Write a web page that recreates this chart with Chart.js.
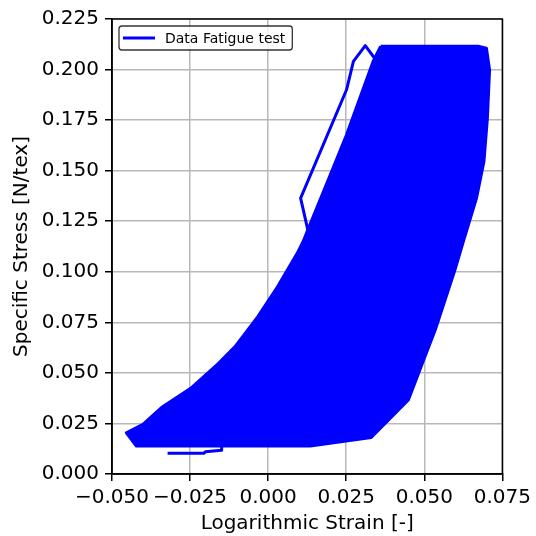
<!DOCTYPE html>
<html>
<head>
<meta charset="utf-8">
<script src="https://cdn.jsdelivr.net/npm/chart.js@4.4.0/dist/chart.umd.min.js"></script>
<style>
  html, body { margin: 0; padding: 0; background: #fff; }
  canvas { display: block; }
</style>
</head>
<body>
<canvas id="fatigueChart" width="536" height="536"></canvas>
<script>
// outer envelope of all the hysteresis loops
const envelopeStrain = [0.0360, 0.0672, 0.0699, 0.0709, 0.0702, 0.0691, 0.0667, 0.0625, 0.0598, 0.0535,
  0.0498, 0.0449, 0.0330, 0.0135, -0.0422, -0.0454, -0.0401, -0.0338, -0.0248, -0.0159,
  -0.0106, -0.0033, 0.0030, 0.0093, 0.0112, 0.0127, 0.0199, 0.0251, 0.0336, 0.0360];
const envelopeStress = [0.2115, 0.2115, 0.2105, 0.1998, 0.1759, 0.1545, 0.1363, 0.1150, 0.1009, 0.0712,
  0.0564, 0.0366, 0.0181, 0.0138, 0.0138, 0.0204, 0.0246, 0.0333, 0.0424, 0.0547,
  0.0630, 0.0778, 0.0926, 0.1091, 0.1150, 0.1207, 0.1479, 0.1677, 0.2040, 0.2115];

// first loading cycle, sticks out on the left
const firstCycleStrain = [0.0127, 0.0104, 0.0251, 0.0273, 0.0311, 0.0341];
const firstCycleStress = [0.1207, 0.1364, 0.1900, 0.2040, 0.2118, 0.2056];

// short unloading tail under the envelope
const tailStrain = [-0.0149, -0.0149, -0.0201, -0.0206, -0.0322];
const tailStress = [0.0138, 0.0118, 0.0110, 0.0102, 0.0102];

const xTickValues = [-0.05, -0.025, 0, 0.025, 0.05, 0.075];
const yTickValues = [0, 0.025, 0.05, 0.075, 0.1, 0.125, 0.15, 0.175, 0.2, 0.225];

const seriesLabel = "Data Fatigue test";
const BLUE = "#0000ff";

Chart.defaults.font.family = "'DejaVu Sans', sans-serif";
Chart.defaults.color = "#000";

function toPoints(xs, ys) {
  return xs.map((x, i) => ({ x: x, y: ys[i] }));
}

function fmtTick(v) {
  if (Math.abs(v) < 1e-9) v = 0;
  return (v < 0 ? "\u2212" : "") + Math.abs(v).toFixed(3);
}

// box on all four sides + legend inside the axes, like matplotlib
const framePlugin = {
  id: "frame",
  afterDatasetsDraw(chart) {
    const { ctx, chartArea: a } = chart;
    ctx.save();
    ctx.strokeStyle = "#000";
    ctx.lineWidth = 1.5;
    ctx.strokeRect(a.left, a.top, a.right - a.left, a.bottom - a.top);

    ctx.font = "14px 'DejaVu Sans'";
    const label = chart.data.datasets[0].label;
    const bx = a.left + 7, by = a.top + 7, bh = 24;
    const tx = a.left + 53;
    const bw = tx - bx + ctx.measureText(label).width + 7;
    ctx.beginPath();
    ctx.roundRect(bx, by, bw, bh, 3);
    ctx.fillStyle = "rgba(255,255,255,0.8)";
    ctx.fill();
    ctx.strokeStyle = "rgba(0,0,0,0.8)";
    ctx.lineWidth = 1.3;
    ctx.stroke();

    ctx.beginPath();
    ctx.moveTo(a.left + 11, by + bh / 2);
    ctx.lineTo(a.left + 43, by + bh / 2);
    ctx.strokeStyle = BLUE;
    ctx.lineWidth = 3;
    ctx.stroke();

    ctx.fillStyle = "#000";
    ctx.textBaseline = "middle";
    ctx.textAlign = "left";
    ctx.fillText(label, tx, by + bh / 2 + 1);
    ctx.restore();
  }
};

const gridOpts = {
  color: "#b8b8b8",
  lineWidth: 1.5,
  tickColor: "#000",
  tickLength: 7,
  tickWidth: 1.5
};

new Chart(document.getElementById("fatigueChart"), {
  type: "line",
  data: {
    datasets: [
      {
        label: seriesLabel,
        data: toPoints(firstCycleStrain, firstCycleStress),
        borderColor: BLUE,
        borderWidth: 3,
        fill: false
      },
      {
        label: "envelope",
        data: toPoints(envelopeStrain, envelopeStress),
        borderColor: BLUE,
        backgroundColor: BLUE,
        borderWidth: 3,
        fill: "shape"
      },
      {
        label: "tail",
        data: toPoints(tailStrain, tailStress),
        borderColor: BLUE,
        borderWidth: 3,
        fill: false
      }
    ]
  },
  options: {
    responsive: false,
    animation: false,
    layout: { padding: { top: 19, right: 28, left: 0, bottom: 0 } },
    elements: { point: { radius: 0 }, line: { tension: 0, borderJoinStyle: "round" } },
    plugins: { legend: { display: false }, tooltip: { enabled: false } },
    scales: {
      x: {
        type: "linear",
        min: -0.05,
        max: 0.075,
        afterBuildTicks: (s) => { s.ticks = xTickValues.map((v) => ({ value: v })); },
        afterFit: (s) => { s.height = 62; },
        grid: gridOpts,
        border: { color: "#000", width: 1.5 },
        ticks: { font: { size: 20 }, padding: 5, maxRotation: 0, callback: fmtTick },
        title: {
          display: true,
          text: "Logarithmic Strain [-]",
          font: { size: 20 },
          padding: { top: 0, bottom: 0 }
        }
      },
      y: {
        min: 0,
        max: 0.225,
        afterBuildTicks: (s) => { s.ticks = yTickValues.map((v) => ({ value: v })); },
        afterFit: (s) => { s.width = 112; },
        grid: gridOpts,
        border: { color: "#000", width: 1.5 },
        ticks: { font: { size: 20 }, padding: 6, callback: fmtTick },
        title: {
          display: true,
          text: "Specific Stress [N/tex]",
          font: { size: 20 },
          padding: { top: 10, bottom: 0 }
        }
      }
    }
  },
  plugins: [framePlugin]
});
</script>
</body>
</html>
